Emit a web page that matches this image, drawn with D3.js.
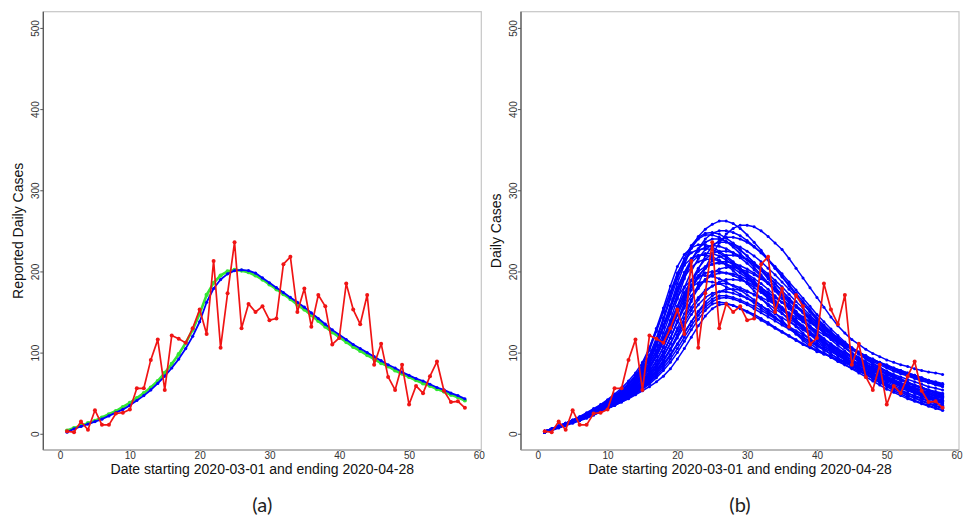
<!DOCTYPE html>
<html>
<head>
<meta charset="utf-8">
<script src="https://cdn.jsdelivr.net/npm/d3@7"></script>
<style>
  body { margin: 0; background: #fff; }
  svg { display: block; }
</style>
</head>
<body>
<svg id="main-vis" width="966" height="517"></svg>
<script>
// reported daily cases, day 1 = 2020-03-01
const reportedCases = [3, 2, 15, 5, 29, 11, 11, 25, 26, 30,
    56, 56, 91, 116, 54, 121, 117, 112, 130, 153,
    123, 213, 106, 173, 236, 130, 160, 150, 157, 140,
    142, 209, 218, 150, 179, 132, 171, 157, 110, 118,
    185, 153, 135, 171, 85, 111, 70, 54, 85, 36,
    59, 50, 71, 89, 53, 39, 40, 32];

// panel (a) fitted curves
const blueFit = [2, 6, 9, 12, 15, 18, 22, 26, 30, 35,
    41, 47, 54, 62, 71, 81, 92, 105, 120, 138,
    162, 179, 190, 197, 201, 202, 201, 198, 192, 186,
    180, 174, 168, 162, 156, 149, 142, 135, 128, 122,
    116, 110, 105, 100, 95, 90, 85, 81, 76, 72,
    68, 65, 61, 57, 54, 50, 47, 43];

const greenFit = [4, 7, 10, 13, 16, 20, 24, 28, 33, 38,
    44, 50, 57, 65, 75, 86, 98, 112, 128, 148,
    171, 186, 195, 200, 202, 201, 199, 195, 190, 184,
    178, 172, 166, 159, 153, 146, 139, 132, 125, 119,
    113, 107, 102, 97, 92, 87, 83, 78, 74, 70,
    66, 62, 59, 55, 52, 48, 45, 41];

// panel (b) simulated daily-case curves
const simCurves = [
    [3,6,9,12,16,19,23,27,32,37, 43,49,56,64,74,88,108,132,158,185, 208,229,243,252,258,262,262,259,253,245, 236,226,215,204,193,182,171,160,150,140, 131,122,114,106,99,92,86,80,75,70, 65,61,57,53,50,47,44,41],
    [2,5,8,11,14,17,20,24,28,32, 36,41,46,52,58,66,76,89,104,122, 142,163,184,204,221,235,246,253,257,257, 255,250,243,235,227,216,204,192,180,168, 156,144,133,124,116,110,104,99,95,91, 88,85,83,80,78,76,75,73],
    [3,6,9,13,16,20,24,29,34,40, 46,53,61,70,83,106,130,155,182,206, 221,229,233,233,230,225,219,212,204,196, 188,180,172,164,156,148,140,133,126,119, 112,106,100,94,88,82,77,72,67,62, 58,54,50,46,43,40,37,34],
    [3,6,9,12,15,19,23,27,31,36, 41,47,54,62,71,83,98,117,140,166, 191,212,228,240,247,250,250,248,244,238, 231,223,214,204,194,184,173,163,153,143, 133,124,115,107,99,92,85,79,73,68, 63,58,54,50,46,43,40,37],
    [3,6,9,12,16,19,23,28,33,38, 44,51,58,67,78,94,115,140,166,191, 212,229,240,245,245,242,237,230,222,214, 205,196,186,177,167,157,148,139,130,121, 113,105,98,91,85,79,73,68,63,58, 53,49,45,41,38,35,32,29],
    [3,6,9,12,15,19,23,27,31,36, 42,48,55,63,73,86,103,124,148,172, 195,214,228,236,240,240,237,232,226,219, 211,203,194,185,176,167,158,149,140,132, 124,116,109,102,95,89,83,78,73,68, 63,59,55,51,47,44,41,38],
    [2,5,8,11,15,18,22,26,30,35, 40,46,52,59,68,80,95,113,134,157, 180,200,216,227,233,236,236,234,230,225, 219,212,204,196,187,178,169,160,151,142, 134,126,118,111,104,98,92,86,81,76, 71,67,63,59,56,53,50,47],
    [3,6,9,12,16,19,23,28,32,38, 44,50,57,66,77,91,109,131,155,178, 199,215,225,230,232,231,228,223,217,210, 202,194,185,176,167,158,149,141,133,125, 117,110,103,97,91,85,80,75,70,66, 62,58,54,51,48,45,42,39],
    [3,6,10,13,17,21,25,30,35,41, 47,54,62,72,85,103,126,150,175,198, 214,223,227,228,227,223,217,210,202,194, 185,176,167,158,149,140,132,124,116,109, 104,98,93,88,83,78,73,68,63,59, 55,51,47,44,40,37,34,31],
    [2,5,8,11,14,18,21,25,29,34, 39,44,50,57,65,76,90,107,127,149, 170,189,204,215,222,225,225,223,219,214, 208,201,193,185,176,167,158,150,142,134, 126,119,112,106,100,94,89,84,79,74, 70,66,62,59,56,53,50,48],
    [2,5,8,11,14,17,21,25,29,33, 38,43,49,55,63,73,85,100,118,138, 158,177,193,205,213,218,220,220,218,215, 210,204,197,189,181,172,163,155,146,138, 130,123,116,110,104,99,94,89,85,81, 77,74,71,68,65,63,61,59],
    [3,6,9,12,16,19,23,28,32,38, 44,50,57,66,77,92,110,132,155,176, 193,205,212,215,215,213,209,204,198,192, 185,177,169,161,153,145,137,129,122,115, 108,102,96,91,86,81,76,72,68,64, 60,56,53,50,47,44,41,38],
    [2,5,8,11,15,18,22,26,30,35, 40,46,52,60,69,81,96,114,134,155, 174,189,200,206,209,210,209,206,202,197, 191,185,178,170,162,154,146,138,131,124, 117,111,105,100,95,90,85,81,77,73, 69,66,63,60,57,54,52,50],
    [2,5,8,11,14,17,21,24,28,33, 37,42,48,54,61,70,81,95,111,130, 148,165,179,190,198,203,205,205,203,200, 196,191,185,178,171,164,156,149,142,135, 128,122,116,110,105,100,95,91,87,83, 79,76,73,70,67,65,63,61],
    [3,6,9,12,15,19,23,27,31,36, 41,47,54,61,70,82,96,113,132,151, 168,182,192,198,200,200,198,195,191,186, 180,174,167,160,153,146,139,132,125,119, 113,107,101,96,91,86,81,77,73,69, 65,61,58,55,52,49,46,44],
    [3,6,9,13,16,20,24,29,34,39, 45,52,60,69,80,95,112,131,150,168, 181,189,194,195,194,191,187,182,177,171, 165,158,151,144,137,130,123,117,111,105, 99,94,89,85,81,77,73,69,65,61, 57,53,50,47,44,41,38,35],
    [2,5,8,11,14,17,20,24,28,32, 37,42,47,53,60,68,78,91,105,121, 137,152,165,175,182,187,190,190,189,187, 183,179,174,168,162,156,149,143,137,131, 125,119,114,109,104,99,95,91,87,83, 80,77,74,71,68,65,62,60],
    [2,5,8,11,14,17,21,25,29,33, 38,43,49,55,62,71,82,96,111,127, 142,156,168,177,182,185,185,183,180,176, 171,166,160,154,148,142,136,130,124,118, 113,108,103,98,94,90,86,82,78,74, 70,66,63,60,57,54,51,48],
    [2,5,8,11,14,17,20,24,27,31, 35,40,45,51,57,64,73,84,96,110, 124,138,151,162,170,175,178,178,177,175, 172,168,164,159,154,149,143,138,132,127, 122,117,112,108,104,100,96,92,88,85, 81,78,75,72,69,66,64,62],
    [2,5,8,11,14,17,20,24,28,32, 36,41,46,52,58,66,75,86,98,111, 125,138,150,159,166,170,170,168,165,161, 157,152,147,142,137,132,127,122,117,112, 107,103,99,95,91,87,83,79,75,71, 67,63,60,57,54,51,48,46],
    [2,5,8,11,14,17,20,23,27,31, 35,39,44,49,55,61,69,78,88,100, 114,128,141,152,160,162,161,158,154,150, 145,140,135,130,125,120,115,110,106,102, 98,95,91,88,84,81,77,74,70,67, 64,61,58,55,52,49,47,45],
    [2,4,7,10,13,16,19,23,27,31, 35,39,43,48,53,58,64,71,80,92, 105,119,133,145,154,159,160,158,155,151, 147,142,137,131,126,121,116,111,107,103, 99,95,91,87,84,80,77,74,71,68, 65,62,59,56,53,51,48,46],
    [3,6,10,13,17,21,26,31,36,42, 49,56,65,75,88,106,128,151,174,194, 208,216,220,220,218,214,208,201,193,185, 176,167,158,149,140,131,123,115,108,101, 100,95,90,85,80,75,70,65,60,55, 51,47,43,40,37,34,31,29],
    [3,6,9,13,16,20,24,29,34,40, 46,53,61,70,81,97,118,143,170,196, 216,232,242,247,248,246,241,235,227,219, 210,201,191,181,171,161,151,141,132,123, 115,107,100,93,87,81,75,70,65,60, 56,52,48,44,41,38,35,32],
    [3,6,9,12,16,19,23,28,33,38, 44,50,58,67,78,93,112,134,157,180, 198,211,219,222,222,219,214,208,201,194, 186,178,170,162,154,146,138,131,124,117, 110,104,98,93,88,83,78,74,70,66, 62,58,55,52,49,46,43,40],
    [2,5,8,11,15,18,22,26,30,35, 40,45,51,58,66,77,90,106,125,146, 165,182,195,204,209,212,212,210,207,203, 198,192,186,179,172,165,158,151,144,137, 130,124,118,112,106,101,96,91,87,83, 79,75,72,69,66,63,60,58],
    [2,5,8,11,14,17,21,25,29,33, 38,43,49,56,64,74,86,101,118,137, 155,170,182,190,195,198,198,197,194,190, 185,180,174,168,162,156,150,144,138,132, 126,120,115,110,105,100,96,92,88,84, 81,78,75,72,69,66,63,61],
    [3,6,9,12,16,19,23,27,32,37, 42,48,55,63,73,86,101,119,138,157, 171,181,186,188,187,185,181,177,172,167, 161,155,149,143,137,131,125,119,113,108, 103,98,93,89,85,81,77,73,69,66, 62,59,56,53,50,47,44,41],
    [2,5,8,11,14,17,20,24,28,32, 36,41,47,53,60,68,78,90,103,118, 133,147,159,168,173,175,175,173,170,167, 163,158,153,148,143,138,133,128,123,118, 113,108,104,100,96,92,88,84,80,77, 73,70,67,64,61,58,56,54],
    [2,5,8,11,14,17,21,25,29,33, 38,43,49,56,63,73,85,100,118,139, 161,183,203,219,231,238,242,242,240,236, 230,223,215,206,197,187,177,167,157,147, 138,129,121,113,106,99,93,87,82,77, 72,68,64,60,57,54,51,48],
    [2,5,8,11,14,17,20,24,27,31, 35,40,45,50,56,63,71,81,92,105, 119,133,146,156,163,167,168,166,163,159, 154,149,144,139,134,129,124,119,114,110, 105,101,97,93,89,85,81,77,73,69, 65,62,58,55,52,49,46,43]
];

const xTickValues = [0, 10, 20, 30, 40, 50, 60];
const yTickValues = [0, 100, 200, 300, 400, 500];

const panelSpecs = [
    { left: 43.3, yTitle: "Reported Daily Cases", tag: "(a)" },
    { left: 521, yTitle: "Daily Cases", tag: "(b)" }
];

function createCasesFigure() {
    const boxWidth = 438,
        boxTop = 11.7,
        boxBottom = 450;

    const svg = d3.select("#main-vis");
    svg.append("rect").attr("width", 966).attr("height", 517).attr("fill", "#fff");

    const yScale = d3.scaleLinear()
        .domain([-20, 520])
        .range([boxBottom, boxTop]);

    function drawPanel(spec, drawSeries) {
        const xScale = d3.scaleLinear()
            .domain([-2.4, 60.35])
            .range([spec.left, spec.left + boxWidth]);

        const g = svg.append("g");

        // light frame, darker left/bottom spines like the R plot
        g.append("rect")
            .attr("x", spec.left).attr("y", boxTop)
            .attr("width", boxWidth).attr("height", boxBottom - boxTop)
            .attr("fill", "none").attr("stroke", "#c6c6c6").attr("stroke-width", 1.2);
        g.append("line")
            .attr("x1", spec.left).attr("x2", spec.left)
            .attr("y1", boxTop).attr("y2", boxBottom)
            .attr("stroke", "#555").attr("stroke-width", 1.3);
        g.append("line")
            .attr("x1", spec.left).attr("x2", spec.left + boxWidth)
            .attr("y1", boxBottom).attr("y2", boxBottom)
            .attr("stroke", "#999").attr("stroke-width", 1.2);

        const yAxis = g.append("g")
            .attr("transform", `translate(${spec.left},0)`)
            .call(d3.axisLeft(yScale).tickValues(yTickValues).tickSize(3));
        yAxis.select(".domain").remove();
        yAxis.selectAll("line").attr("stroke", "#555");
        yAxis.selectAll("text")
            .attr("x", 0).attr("y", -4.5).attr("dy", null)
            .attr("transform", "rotate(-90)")
            .style("text-anchor", "middle")
            .style("font-family", "'Liberation Sans', Arial, sans-serif")
            .style("font-size", "10px")
            .attr("fill", "#333");

        const xAxis = g.append("g")
            .attr("transform", `translate(0,${boxBottom})`)
            .call(d3.axisBottom(xScale).tickValues(xTickValues).tickSize(1).tickPadding(1));
        xAxis.select(".domain").remove();
        xAxis.selectAll("line").attr("stroke", "#777");
        xAxis.selectAll("text")
            .style("font-family", "'Liberation Sans', Arial, sans-serif")
            .style("font-size", "10px")
            .attr("fill", "#333");

        const midX = spec.left + boxWidth / 2;
        g.append("text")
            .attr("x", midX).attr("y", 473.5)
            .attr("text-anchor", "middle")
            .attr("font-family", "'Liberation Sans', Arial, sans-serif")
            .attr("font-size", "14px")
            .attr("fill", "#111")
            .text("Date starting 2020-03-01 and ending 2020-04-28");

        g.append("text")
            .attr("transform", `translate(${spec.left - 20},${(boxTop + boxBottom) / 2}) rotate(-90)`)
            .attr("text-anchor", "middle")
            .attr("font-family", "'Liberation Sans', Arial, sans-serif")
            .attr("font-size", "14px")
            .attr("fill", "#111")
            .text(spec.yTitle);

        g.append("text")
            .attr("x", midX).attr("y", 512)
            .attr("text-anchor", "middle")
            .attr("font-family", "Lato, 'Open Sans', sans-serif")
            .attr("font-size", "20px")
            .attr("fill", "#222")
            .text(spec.tag);

        drawSeries(g, xScale);
    }

    // one line + its dots per day
    function addSeries(g, xScale, values, color, width, radius) {
        const line = d3.line()
            .x((d, i) => xScale(i + 1))
            .y(d => yScale(d));
        const s = g.append("g");
        s.append("path")
            .datum(values)
            .attr("fill", "none")
            .attr("stroke", color)
            .attr("stroke-width", width)
            .attr("stroke-linejoin", "round")
            .attr("d", line);
        s.selectAll("circle")
            .data(values)
            .enter()
            .append("circle")
            .attr("cx", (d, i) => xScale(i + 1))
            .attr("cy", d => yScale(d))
            .attr("r", radius)
            .attr("fill", color);
    }

    drawPanel(panelSpecs[0], (g, xScale) => {
        addSeries(g, xScale, greenFit, "#33e633", 2.6, 2.1);
        addSeries(g, xScale, blueFit, "#0000ff", 1.8, 1.6);
        addSeries(g, xScale, reportedCases, "#f01414", 1.7, 2);
    });

    drawPanel(panelSpecs[1], (g, xScale) => {
        simCurves.forEach(curve => addSeries(g, xScale, curve, "#0000ff", 1.5, 1.5));
        addSeries(g, xScale, reportedCases, "#f01414", 1.7, 2);
    });
}

createCasesFigure();
</script>
</body>
</html>
